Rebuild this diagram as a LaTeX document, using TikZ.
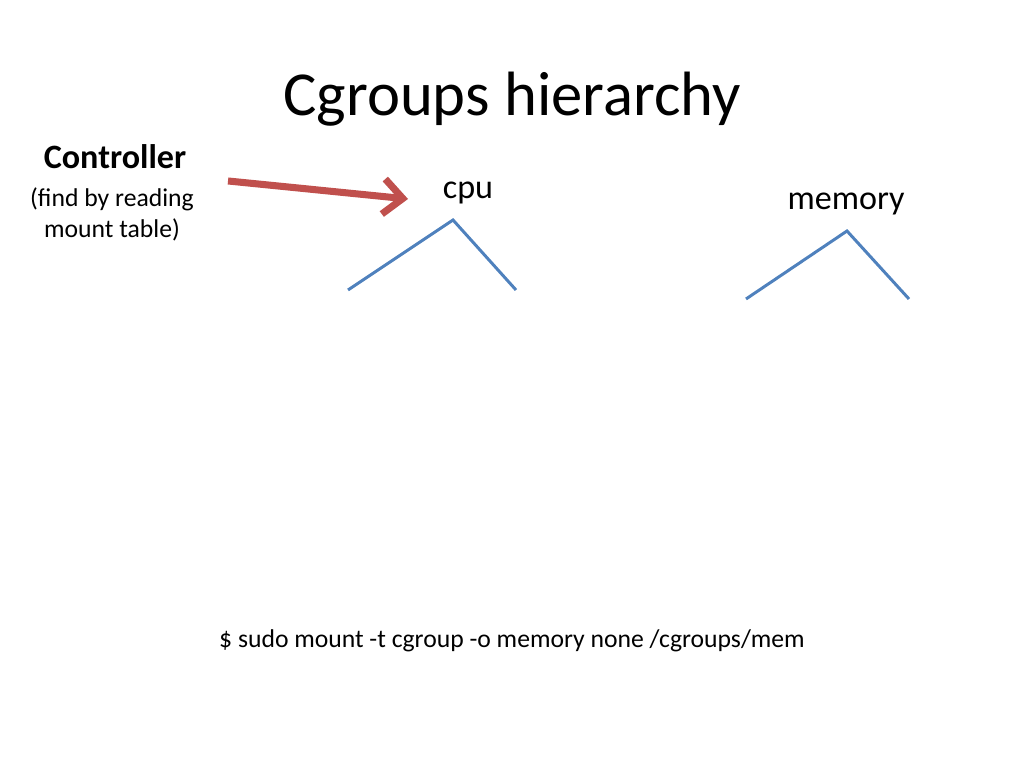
\documentclass[tikz,border=0pt]{standalone}
\usepackage{fontspec}
\setmainfont{Carlito}
\usepackage{xcolor}
\usetikzlibrary{arrows.meta,positioning}
\definecolor{PtrRed}{HTML}{C0504D}
\definecolor{TreeBlue}{HTML}{4F81BD}

\begin{document}
\begin{tikzpicture}[
  x=0.01cm, y=-0.01cm,
  label/.style={inner sep=0pt, font=\fontsize{9.7}{11.6}\selectfont},
  note/.style={inner sep=0pt, align=center, font=\fontsize{7.3}{8.8}\selectfont},
  branch/.style={draw=TreeBlue, line width=0.85pt},
  pointer/.style={-{Straight Barb[length=5.5pt, width=10pt]}, draw=PtrRed, line width=2pt}
]
\useasboundingbox (0,0) rectangle (1024,768);
\node[inner sep=0pt, font=\fontsize{17.8}{21}\selectfont] (title) at (512,99) {Cgroups hierarchy};
\node[label, font=\fontsize{9.7}{11.6}\selectfont\bfseries] (ctrl) at (115,157) {Controller};
\node[note] (ctrlnote) at (112,214) {(find by reading\\mount table)};
\node[label] (cpu) at (468,193) {cpu};
\node[label] (memory) at (846,204) {memory};
\node[label, font=\fontsize{7.3}{8.8}\selectfont] (cmd) at (512,641) {\$ sudo mount -t cgroup -o memory none /cgroups/mem};

% trees
\coordinate (cpuroot) at (453,220);
\coordinate (cpuleft) at (348,290);
\coordinate (cpuright) at (516,290);
\coordinate (memroot) at (847,231);
\coordinate (memleft) at (746,299);
\coordinate (memright) at (909,299);
\draw[branch] (cpuleft) -- (cpuroot) -- (cpuright);
\draw[branch] (memleft) -- (memroot) -- (memright);

% pointer
\coordinate (ptrtail) at (228,181);
\coordinate (ptrhead) at (408,199);
\draw[pointer] (ptrtail) -- (ptrhead);
\end{tikzpicture}
\end{document}
